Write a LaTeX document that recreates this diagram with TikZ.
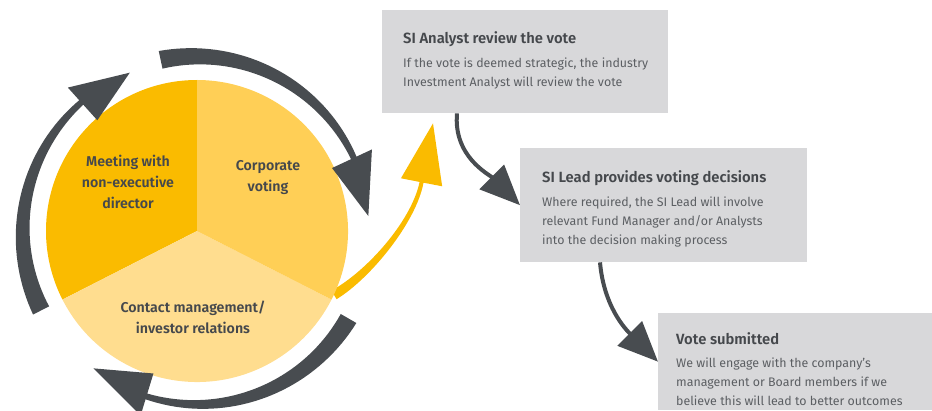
\documentclass[tikz,border=0pt]{standalone}
\usepackage{fontspec}
\setmainfont{Fira Sans}[BoldFont={Fira Sans SemiBold}]
\usepackage{tikz}
\usetikzlibrary{arrows.meta,calc,positioning}

\definecolor{amber}{HTML}{FABB00}
\definecolor{amberlight}{HTML}{FFCF56}
\definecolor{amberpale}{HTML}{FFDD8F}
\definecolor{slate}{HTML}{484C50}
\definecolor{boxgrey}{HTML}{D8D8DA}
\definecolor{headgrey}{HTML}{45484C}
\definecolor{textgrey}{HTML}{5C5F63}

\tikzset{
  infobox/.style={fill=boxgrey, draw=none, anchor=north west, inner sep=0pt},
  boxhead/.style={anchor=base west, inner sep=0pt, text=headgrey,
    font=\bfseries\fontsize{14.8}{19}\selectfont},
  boxbody/.style={anchor=north west, align=left, inner sep=0pt, text=textgrey,
    font=\fontsize{12.4}{19}\selectfont},
  wheeltext/.style={align=center, inner sep=0pt, text=headgrey,
    font=\bfseries\fontsize{14.2}{21}\selectfont},
  flow/.style={slate, line width=4pt, -{Triangle[width=34pt,length=40pt]}}
}

\begin{document}
\begin{tikzpicture}[x=1pt,y=1pt]
\useasboundingbox (0,0) rectangle (932,410);

% boxes on the right
\node[infobox, minimum width=286pt, minimum height=103pt] (box1) at (382,400) {};
\node[infobox, minimum width=287pt, minimum height=114pt] (box2) at (520,262) {};
\node[infobox, minimum width=274pt, minimum height=97pt] (box3) at (658,97) {};

\node[boxhead] (head1) at ([shift={(21pt,-34pt)}]box1.north west) {SI Analyst review the vote};
\node[boxbody] (body1) at ([yshift=-14pt]head1.base west)
  {If the vote is deemed strategic, the industry\\Investment Analyst will review the vote};

\node[boxhead] (head2) at ([shift={(22pt,-35pt)}]box2.north west) {SI Lead provides voting decisions};
\node[boxbody] (body2) at ([yshift=-14pt]head2.base west)
  {Where required, the SI Lead will involve\\relevant Fund Manager and/or Analysts\\into the decision making process};

\node[boxhead] (head3) at ([shift={(18pt,-31pt)}]box3.north west) {Vote submitted};
\node[boxbody] (body3) at ([yshift=-14pt]head3.base west)
  {We will engage with the company's\\management or Board members if we\\believe this will lead to better outcomes};

% the wheel
\node[circle, minimum size=302pt, inner sep=0pt] (wheel) at (197,179) {};

% yellow arrow up to the first box (drawn under the wheel)
\coordinate (ys) at (wheel.-25);
\coordinate (yt) at ([shift={(51pt,-10pt)}]box1.south west);
\coordinate (yb) at ($(yt)+(259:60pt)$);
\fill[amber] ($(ys)+(120:5pt)$)
  .. controls ($(ys)+(30:40pt)+(120:4pt)$) and ($(yb)+(259:40pt)+(169:2.5pt)$) .. ($(yb)+(169:2pt)$)
  -- ($(yb)+(169:21pt)$) -- (yt) -- ($(yb)+(-11:21pt)$) -- ($(yb)+(-11:2pt)$)
  .. controls ($(yb)+(259:40pt)+(-11:2.5pt)$) and ($(ys)+(30:40pt)+(-60:4pt)$) .. ($(ys)+(-60:5pt)$)
  -- cycle;

\foreach \a/\b/\c in {90/207/amber, 207/333/amberpale, -27/90/amberlight}
  \fill[\c] (wheel.center) -- ++(\a:151pt) arc[start angle=\a, end angle=\b, radius=151pt] -- cycle;

\node[wheeltext] (meet) at (128,228) {Meeting with\\non-executive\\director};
\node[wheeltext] (vote) at (268,232) {Corporate\\voting};
\node[wheeltext] (contact) at (193,93) {Contact management/\\investor relations};

% three tapered arrows round the wheel
\foreach \ta/\tb/\tc in {207/132/113, 102/25/5, 330/253/233}{
  \fill[slate, shift={(wheel.center)}]
    plot[domain=\ta:\tb, samples=40] (\x:{184-8*(\x-\ta)/(\tb-\ta)})
    -- (\tb:193) -- (\tc:172) -- (\tb:149) -- (\tb:170)
    -- plot[domain=\tb:\ta, samples=40] (\x:{170-4*(\x-\tb)/(\ta-\tb)})
    -- cycle;
}

% steps between the boxes
\draw[flow] ([xshift=75pt]box1.south west) to[out=-95, in=135] (box2.west);
\draw[flow] ([xshift=80pt]box2.south west) to[out=-85, in=135] (box3.west);
\end{tikzpicture}
\end{document}
